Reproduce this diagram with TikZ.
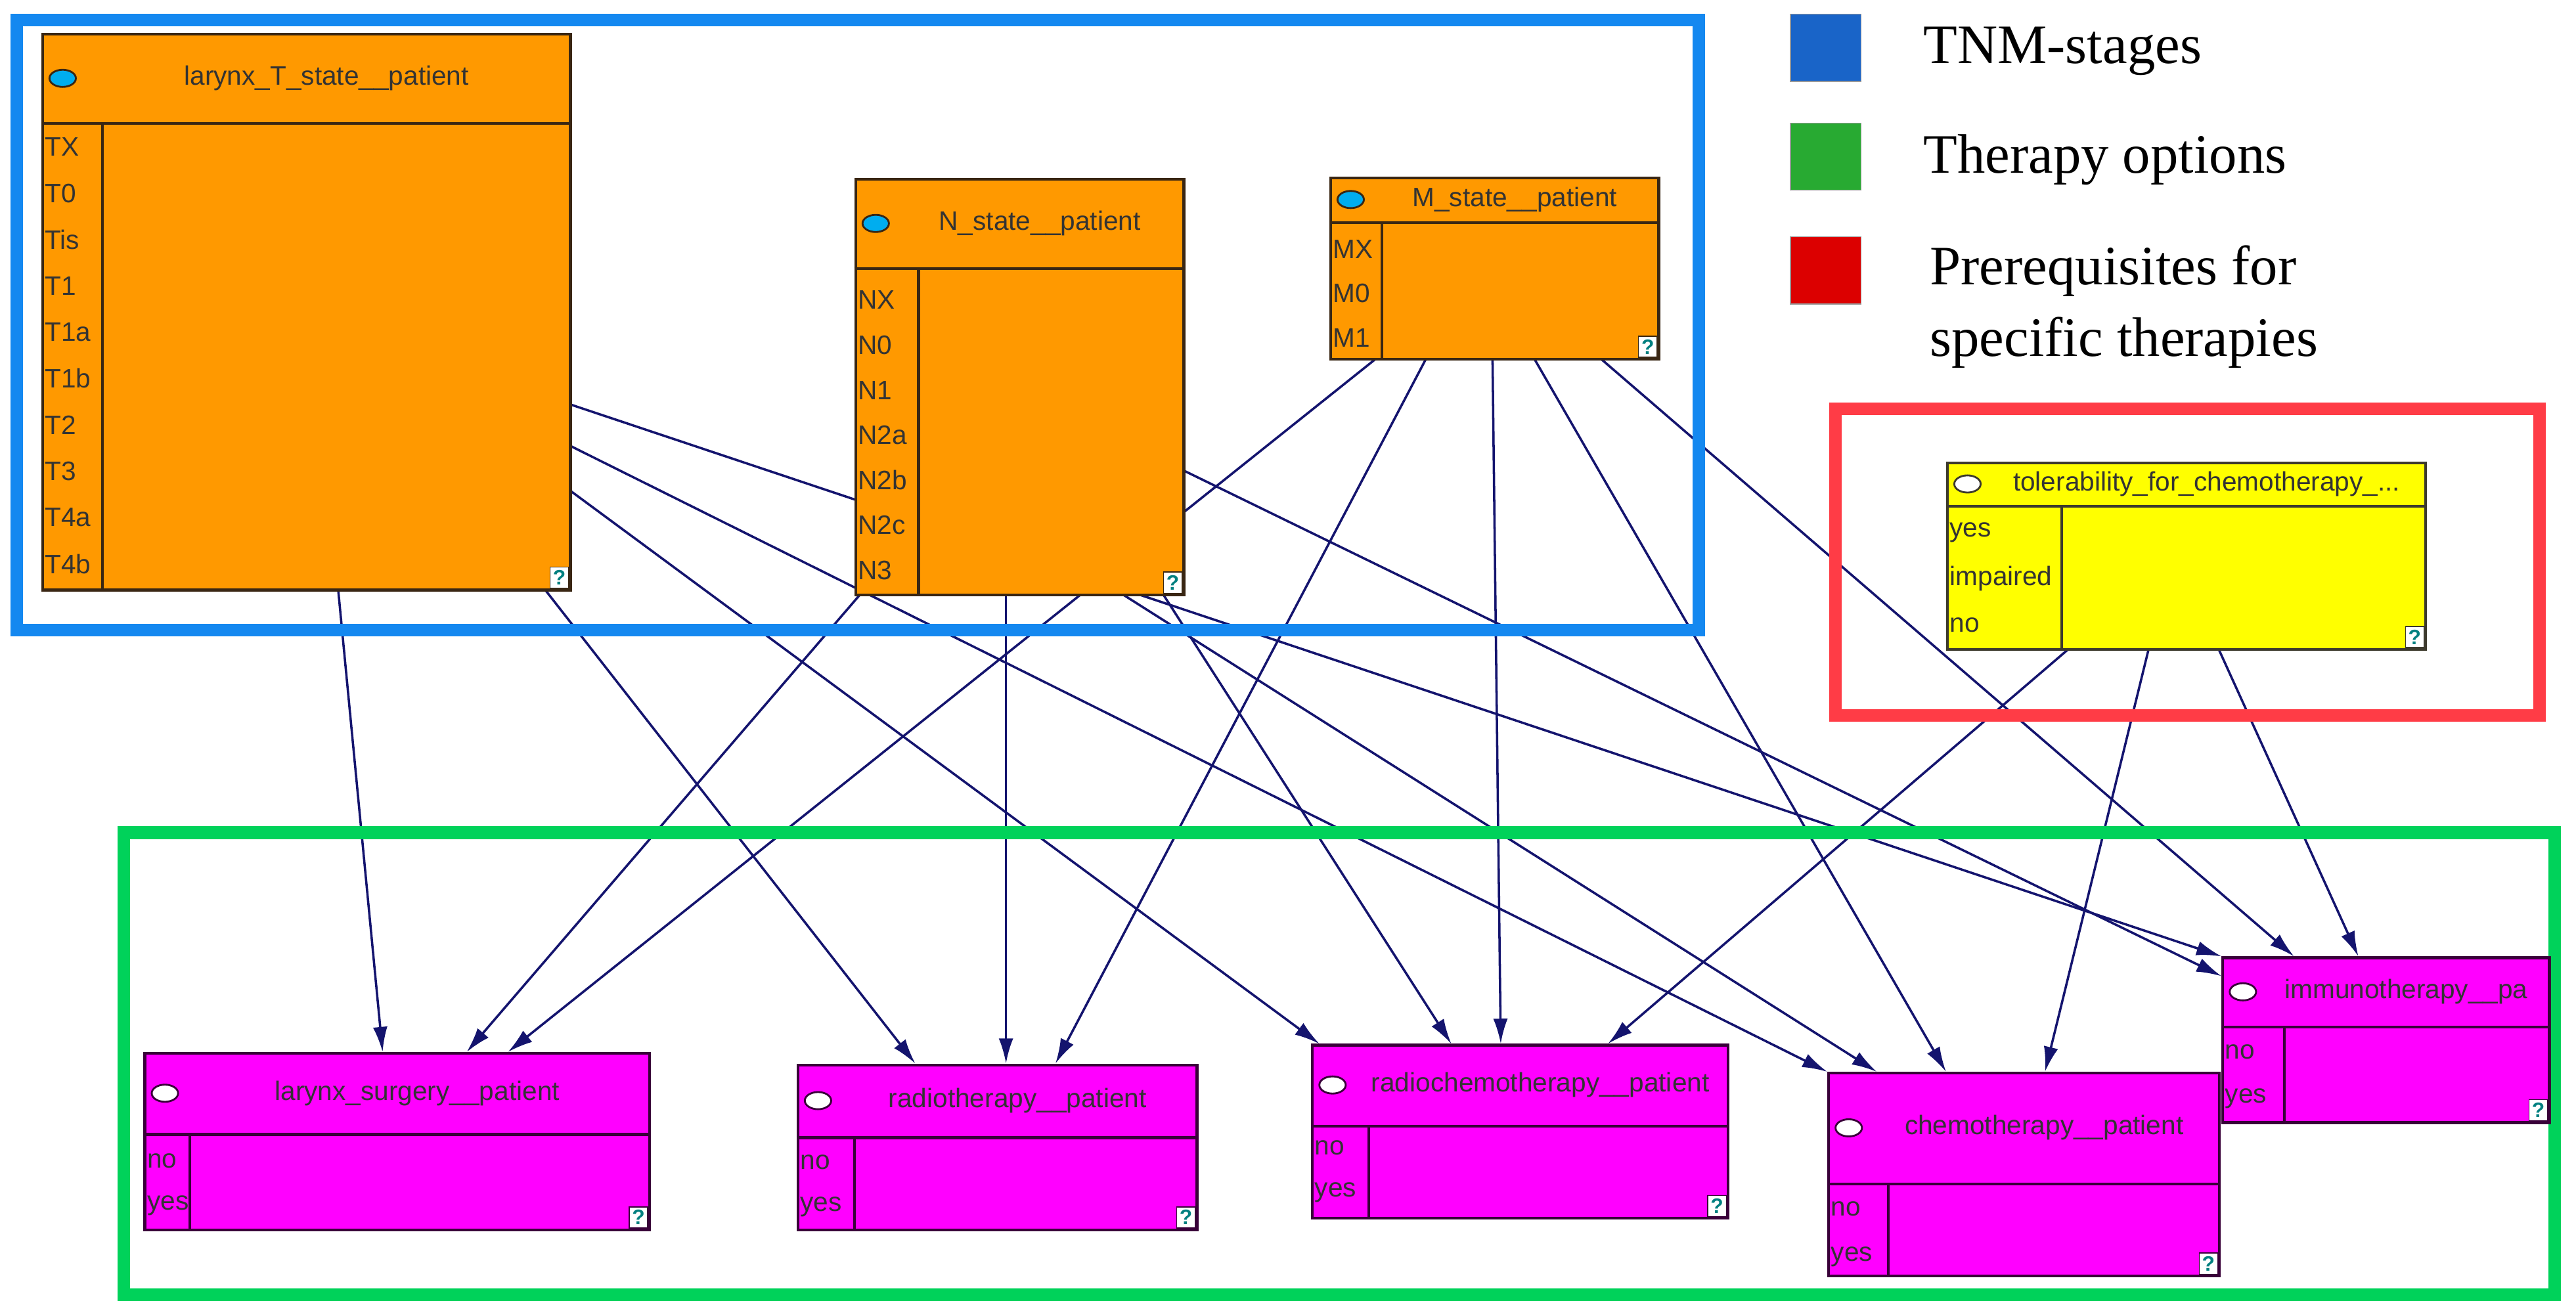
\documentclass[tikz,border=0pt]{standalone}
\usepackage{fontspec}
\setmainfont{Liberation Sans}
\newfontfamily\legendfont{Liberation Serif}
\usetikzlibrary{positioning,calc,arrows.meta,shapes.geometric}
\pgfdeclarelayer{bg}
\pgfsetlayers{bg,main}

\definecolor{tnmorange}{RGB}{255,153,0}
\definecolor{therapymag}{RGB}{255,0,255}
\definecolor{tolyellow}{RGB}{255,255,0}
\definecolor{edgenavy}{RGB}{20,20,110}
\definecolor{frameblue}{RGB}{20,136,240}
\definecolor{framegreen}{RGB}{0,210,90}
\definecolor{framered}{RGB}{255,60,70}
\definecolor{legblue}{RGB}{25,100,200}
\definecolor{leggreen}{RGB}{40,170,50}
\definecolor{legred}{RGB}{220,0,0}

\tikzset{
  netbox/.style={draw=\boxborder,line width=1.2pt,inner sep=0pt},
  netline/.style={draw=\boxborder,line width=1.2pt},
  oval/.style={ellipse,draw=\boxborder,line width=0.8pt,minimum width=0.4cm,minimum height=0.26cm,inner sep=0pt},
  nettitle/.style={font=\fontsize{11.5}{13}\selectfont,text=black!80,inner sep=0pt},
  netstate/.style={anchor=west,font=\fontsize{11.5}{13}\selectfont,text=black!80,inner sep=0pt},
  qmark/.style={anchor=south east,draw=\boxborder,fill=white,text=teal,font=\bfseries\fontsize{9}{9}\selectfont,minimum width=0.28cm,minimum height=0.32cm,inner sep=0pt},
  edge/.style={draw=edgenavy,line width=1pt,-{Latex[length=0.38cm,width=0.22cm]}},
  frame/.style={draw=#1,line width=0.19cm},
  legsq/.style={draw=black!40,minimum width=1.07cm,minimum height=1.02cm,inner sep=0pt},
  legtext/.style={anchor=west,font=\legendfont\fontsize{24}{31}\selectfont,align=left,inner sep=0pt}
}

% name, fill, x1, y1, x2, y2, header, column, title
\newcommand{\netnode}[9]{%
  \node[netbox,fill=#2,anchor=north west,minimum width={(#5-#3)*0.025cm},minimum height={(#6-#4)*0.025cm}] (#1) at (#3,#4) {};
  \draw[netline] (#3,#7) -- (#5,#7);
  \draw[netline] (#8,#7) -- (#8,#6);
  \node[oval,fill=\ovalfill] at (#3+13,{(#4+#7)/2}) {};
  \node[nettitle] at ({(#3+26+#5)/2},{(#4+#7)/2}) {#9};
  \node[qmark] at (#5,#6) {?};
}

\begin{document}
\begin{tikzpicture}[x=0.025cm,y=-0.025cm]
\useasboundingbox (0,0) rectangle (1562,798);

% frames
\draw[frame=frameblue] (10,12) rectangle (1030,382);
\draw[frame=framered] (1113,248) rectangle (1540,434);
\draw[frame=framegreen] (75,505) rectangle (1549,785);

% TNM stages
\def\ovalfill{cyan}\def\boxborder{black!70!brown}
\netnode{T}{tnmorange}{25}{20}{345}{357}{75}{62}{larynx\_T\_state\_\_patient}
\foreach \s [count=\i from 0] in {TX,T0,Tis,T1,T1a,T1b,T2,T3,T4a,T4b}
  \node[netstate] at (27,{89+28.1*\i}) {\s};
\netnode{N}{tnmorange}{518}{108}{717}{360}{163}{557}{N\_state\_\_patient}
\foreach \s [count=\i from 0] in {NX,N0,N1,N2a,N2b,N2c,N3}
  \node[netstate] at (520,{182+27.3*\i}) {\s};
\netnode{M}{tnmorange}{806}{107}{1005}{217}{135}{838}{M\_state\_\_patient}
\foreach \s [count=\i from 0] in {MX,M0,M1}
  \node[netstate] at (808,{151+27*\i}) {\s};

% prerequisite
\def\ovalfill{white}\def\boxborder{black!75!olive}
\netnode{tol}{tolyellow}{1180}{280}{1470}{393}{307}{1250}{tolerability\_for\_chemotherapy\_...}
\foreach \s [count=\i from 0] in {yes,impaired,no}
  \node[netstate] at (1182,{323+28*\i}) {\s};

% therapy options
\def\boxborder{black!55!violet}
\netnode{surg}{therapymag}{87}{638}{393}{745}{688}{115}{larynx\_surgery\_\_patient}
\netnode{radio}{therapymag}{483}{645}{725}{745}{690}{518}{radiotherapy\_\_patient}
\netnode{rchemo}{therapymag}{795}{633}{1047}{738}{683}{830}{radiochemotherapy\_\_patient}
\netnode{chemo}{therapymag}{1108}{650}{1345}{773}{718}{1145}{chemotherapy\_\_patient}
\netnode{immuno}{therapymag}{1347}{580}{1545}{680}{623}{1385}{immunotherapy\_\_pa}
\foreach \n/\x/\a/\b in {surg/89/704/731,radio/485/705/732,rchemo/797/696/723,chemo/1110/733/762,immuno/1349/638/666} {
  \node[netstate] at (\x,\a) {no};
  \node[netstate] at (\x,\b) {yes};
}

% dependencies
\begin{pgfonlayer}{bg}
\foreach \s/\sx/\sy/\t/\tx/\ty in {
  T/180/337/surg/145/0, T/305/337/radio/72/0, T/320/225/immuno/0/0,
  T/320/250/chemo/0/0, T/320/277/rchemo/5/0,
  N/4/252/surg/196/0, N/92/252/radio/127/0, N/187/252/rchemo/85/0,
  N/199/177/immuno/0/12, N/162/252/chemo/30/0,
  M/29/110/surg/221/0, M/59/110/radio/157/0, M/99/110/rchemo/115/0,
  M/124/110/chemo/72/0, M/164/110/immuno/44/0,
  tol/75/113/rchemo/180/0, tol/123/113/chemo/132/0, tol/165/113/immuno/83/0}
  \draw[edge] ($(\s.north west)+(\sx,\sy)$) -- ($(\t.north west)+(\tx,\ty)$);
\end{pgfonlayer}

% legend
\node[legsq,fill=legblue] (lblue) at (1107,29) {};
\node[legsq,fill=leggreen] (lgreen) at (1107,95) {};
\node[legsq,fill=legred] (lred) at (1107,164) {};
\node[legtext] (tblue) at (1166,31) {TNM-stages};
\node[legtext] (tgreen) at (1166,97) {Therapy options};
\node[legtext] (tred) at (1170,186) {Prerequisites for\\specific therapies};
\end{tikzpicture}
\end{document}
